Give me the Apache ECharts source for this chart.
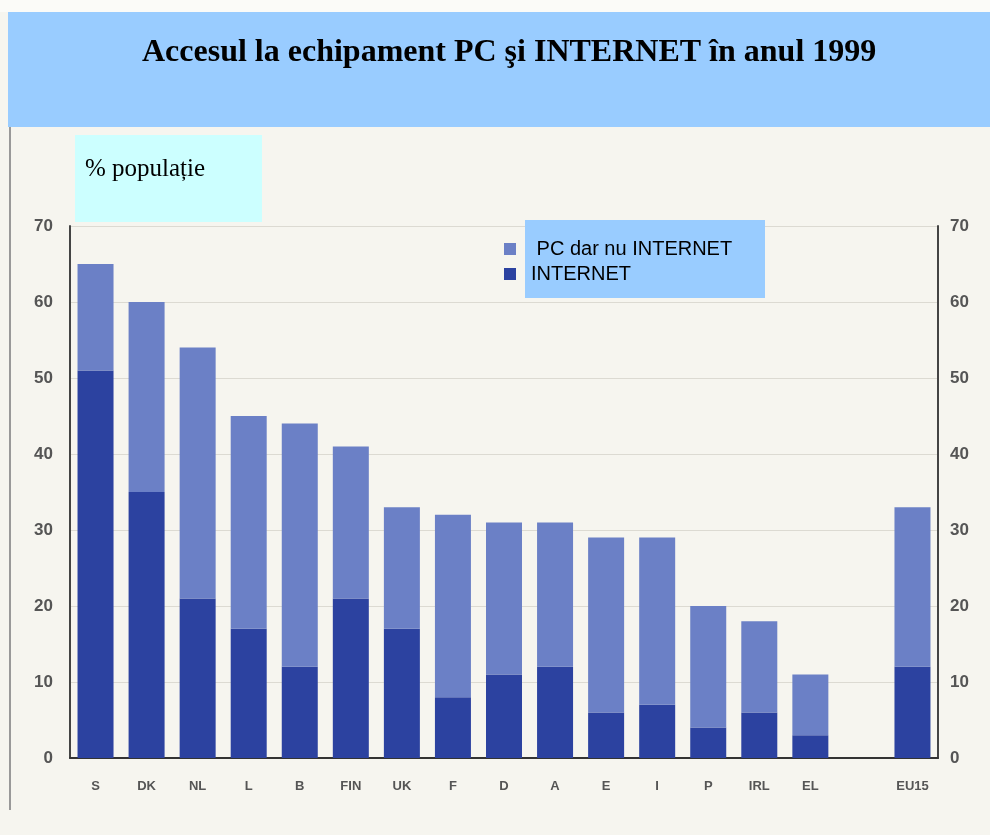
<!DOCTYPE html>
<html><head><meta charset="utf-8">
<script src="https://cdn.jsdelivr.net/npm/echarts@6/dist/echarts.min.js"></script>
<style>html,body{margin:0;padding:0;background:#f6f5ef}#c{width:990px;height:835px}</style>
</head><body><div id="c"></div>
<script>
var categories = ['S','DK','NL','L','B','FIN','UK','F','D','A','E','I','P','IRL','EL','','EU15'];
var internet   = [51, 35, 21, 17, 12, 21, 17, 8, 11, 12, 6, 7, 4, 6, 3, null, 12];
var pcTotal    = [65, 60, 54, 45, 44, 41, 33, 32, 31, 31, 29, 29, 20, 18, 11, null, 33];
var pcNoInternet = pcTotal.map(function(t,i){ return t==null ? null : t - internet[i]; });
var yTicks = [0,10,20,30,40,50,60,70];

var chart = echarts.init(document.getElementById('c'), null, {renderer:'canvas'});
var axisLabelStyle = {color:'#555', fontSize:17, fontWeight:'bold', fontFamily:'Liberation Sans'};
chart.setOption({
  backgroundColor:'#f6f5ef',
  animation:false,
  title:{
    text:'Accesul la echipament PC şi INTERNET în anul 1999',
    left:137, top:32,
    textStyle:{fontFamily:'Liberation Serif', fontSize:32, fontWeight:'bold', color:'#000'}
  },
  graphic:[
    {type:'rect', shape:{x:0,y:0,width:990,height:12}, style:{fill:'#fbfbf8'}, z:0},
    {type:'rect', shape:{x:8,y:12,width:982,height:115}, style:{fill:'#99ccff'}, z:0},
    {type:'line', shape:{x1:10,y1:127,x2:10,y2:810}, style:{stroke:'#999', lineWidth:2}, z:0},
    {type:'rect', shape:{x:75,y:135,width:187,height:87}, style:{fill:'#ccffff'}, z:1},
    {type:'text', x:85, y:157, style:{text:'% populație', fill:'#000', font:'25px "Liberation Serif"'}, z:2},
    {type:'rect', shape:{x:525,y:220,width:240,height:78}, style:{fill:'#99ccff'}, z:1}
  ],
  legend:{
    orient:'vertical', left:499, top:234, itemWidth:12, itemHeight:12, itemGap:5, z:5,
    icon:'rect',
    data:[{name:'PC dar nu INTERNET'},{name:'INTERNET'}],
    formatter:function(n){ return n==='INTERNET' ? n : ' ' + n; },
    textStyle:{color:'#000', fontSize:20, lineHeight:20, fontFamily:'Liberation Sans', padding:[0,0,0,10]}
  },
  grid:{left:70, right:52, top:226, bottom:77},
  xAxis:{
    type:'category', data:categories,
    axisLine:{lineStyle:{color:'#333', width:2}},
    axisTick:{show:false},
    axisLabel:{color:'#555', fontSize:13, fontWeight:'bold', fontFamily:'Liberation Sans', margin:22, interval:0}
  },
  yAxis:[
    {type:'value', min:0, max:70, interval:10, position:'left',
     axisLine:{show:true, lineStyle:{color:'#444', width:2}},
     axisTick:{show:false},
     axisLabel:Object.assign({margin:17}, axisLabelStyle),
     splitLine:{show:true, lineStyle:{color:'#dcdad2', width:1}}},
    {type:'value', min:0, max:70, interval:10, position:'right',
     axisLine:{show:true, lineStyle:{color:'#444', width:2}},
     axisTick:{show:false},
     axisLabel:Object.assign({margin:12}, axisLabelStyle),
     splitLine:{show:false}}
  ],
  series:[
    {name:'INTERNET', type:'bar', stack:'a', data:internet, barWidth:36,
     itemStyle:{color:'#2c42a0'}},
    {name:'PC dar nu INTERNET', type:'bar', stack:'a', data:pcNoInternet, barWidth:36,
     itemStyle:{color:'#6b80c6'}}
  ]
});
</script></body></html>
